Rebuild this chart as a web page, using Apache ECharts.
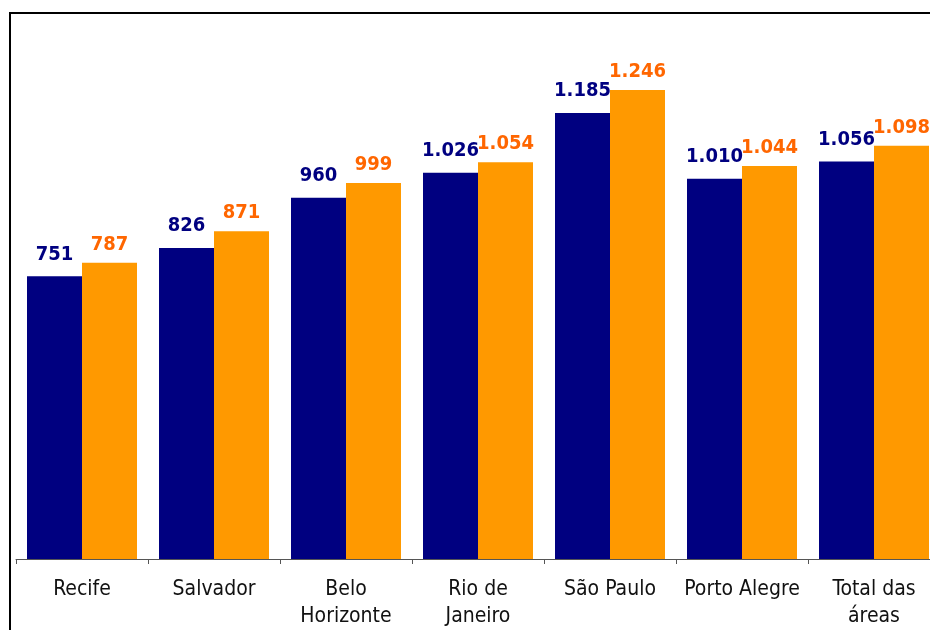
<!DOCTYPE html>
<html><head><meta charset="utf-8">
<script src="https://cdn.jsdelivr.net/npm/echarts@6/dist/echarts.min.js"></script>
<style>html,body{margin:0;padding:0;background:#fff;overflow:hidden}#c{width:940px;height:630px}</style>
</head><body><div id="c"></div>
<script>
const categories = ['Recife', 'Salvador', 'Belo\nHorizonte', 'Rio de\nJaneiro', 'São Paulo', 'Porto Alegre', 'Total das\náreas'];
const seriesA = [751, 826, 960, 1026, 1185, 1010, 1056];
const seriesB = [787, 871, 999, 1054, 1246, 1044, 1098];

const fmt = v => { const s = String(v); return s.length > 3 ? s.slice(0, s.length - 3) + '.' + s.slice(-3) : s; };
const FONT = '"DejaVu Sans Condensed", "DejaVu Sans", sans-serif';

const chart = echarts.init(document.getElementById('c'), null, {renderer: 'canvas'});
chart.setOption({
  animation: false,
  backgroundColor: '#ffffff',
  grid: {left: 16, right: 0, top: 32, bottom: 69, containLabel: false},
  xAxis: {
    type: 'category', data: categories,
    axisLine: {show: true, lineStyle: {color: '#555', width: 1}},
    axisTick: {show: true, length: 5, lineStyle: {color: '#555'}},
    axisLabel: {interval: 0, margin: 17, fontFamily: FONT, fontSize: 21, color: '#111', lineHeight: 27}
  },
  yAxis: {type: 'value', min: 0, max: 1400, show: false, splitLine: {show: false}},
  series: [
    {type: 'bar', data: seriesA, barWidth: 55, barGap: '0%', itemStyle: {color: '#000080'},
     label: {show: true, position: 'top', distance: 12, formatter: p => fmt(p.value), fontFamily: FONT, fontWeight: 'bold', fontSize: 20, color: '#000080'}},
    {type: 'bar', data: seriesB, barWidth: 55, barGap: '0%', itemStyle: {color: '#FF9900'},
     label: {show: true, position: 'top', distance: 8, formatter: p => fmt(p.value), fontFamily: FONT, fontWeight: 'bold', fontSize: 20, color: '#FF6600'}}
  ],
  graphic: [
    {type: 'line', shape: {x1: 10, y1: 13, x2: 940, y2: 13}, style: {stroke: '#000', lineWidth: 2}, silent: true},
    {type: 'line', shape: {x1: 10, y1: 12, x2: 10, y2: 630}, style: {stroke: '#000', lineWidth: 2}, silent: true}
  ]
});
</script></body></html>
